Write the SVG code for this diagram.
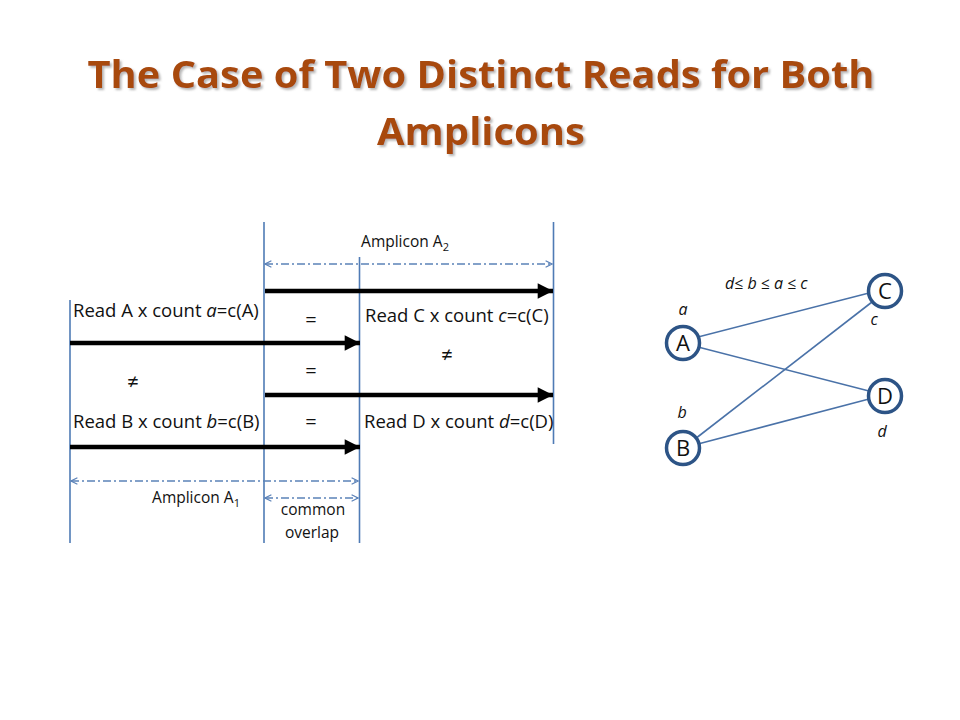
<svg xmlns="http://www.w3.org/2000/svg" width="960" height="720" viewBox="0 0 960 720">
<defs>
<marker id="ah" viewBox="0 0 10 10" refX="10" refY="5" markerWidth="3.8" markerHeight="3.4" orient="auto" markerUnits="strokeWidth">
<path d="M0,0 L10,5 L0,10 z" fill="#000"/>
</marker>
<marker id="chev" viewBox="0 0 10 10" refX="9" refY="5" markerWidth="8" markerHeight="8" orient="auto-start-reverse" markerUnits="userSpaceOnUse">
<path d="M1,1 L9,5 L1,9" fill="none" stroke="#5b82b8" stroke-width="1.5"/>
</marker>
<filter id="sh" x="-5%" y="-20%" width="110%" height="140%">
<feDropShadow dx="2" dy="2" stdDeviation="1" flood-color="#888" flood-opacity="0.6"/>
</filter>
</defs>
<style>
.title{font-family:"Open Sans","Liberation Sans",sans-serif;font-weight:bold;font-size:38px;fill:#a8490e;text-anchor:middle}
.lbl{font-family:"Open Sans","Liberation Sans",sans-serif;font-size:18.5px;fill:#111}
.sm{font-family:"Open Sans","Liberation Sans",sans-serif;font-size:15.5px;fill:#111}
.op{font-family:"Open Sans","Liberation Sans",sans-serif;font-size:20px;fill:#111;text-anchor:middle}
.it{font-style:italic}
.vl{stroke:#4f7bb5;stroke-width:1.6;fill:none}
.rd{stroke:#000;stroke-width:4.5;fill:none;marker-end:url(#ah)}
.dd{stroke:#5b82b8;stroke-width:1.5;stroke-dasharray:8 3 2 3;fill:none;marker-start:url(#chev);marker-end:url(#chev)}
.edge{stroke:#4a72a8;stroke-width:1.6;fill:none}
.node circle{fill:#fff;stroke:#2d5486;stroke-width:3.5}
.node text{font-family:"Open Sans","Liberation Sans",sans-serif;font-size:22px;fill:#111;text-anchor:middle}
.gl{font-family:"Open Sans","Liberation Sans",sans-serif;font-style:italic;font-size:16px;fill:#111}
</style>
<rect width="960" height="720" fill="#fff"/>
<g id="title" filter="url(#sh)">
<text class="title" x="481" y="88" textLength="787" lengthAdjust="spacingAndGlyphs">The Case of Two Distinct Reads for Both</text>
<text class="title" x="481" y="145" textLength="208" lengthAdjust="spacingAndGlyphs">Amplicons</text>
</g>
<g id="guides">
<line class="vl" x1="70" y1="300" x2="70" y2="543"/>
<line class="vl" x1="264" y1="222" x2="264" y2="543"/>
<line class="vl" x1="359.5" y1="257" x2="359.5" y2="543"/>
<line class="vl" x1="553.5" y1="222" x2="553.5" y2="444"/>
</g>
<g id="connectors">
<line class="dd" x1="265" y1="264" x2="552" y2="264"/>
<line class="rd" x1="265" y1="291" x2="553" y2="291"/>
<line class="rd" x1="70" y1="343" x2="360" y2="343"/>
<line class="rd" x1="265" y1="395" x2="553" y2="395"/>
<line class="rd" x1="70" y1="447" x2="360" y2="447"/>
<line class="dd" x1="71" y1="481" x2="358" y2="481"/>
<line class="dd" x1="265" y1="498" x2="358" y2="498"/>
<line class="edge" x1="698" y1="337" x2="869" y2="293"/>
<line class="edge" x1="698" y1="347" x2="869" y2="391"/>
<line class="edge" x1="695" y1="439" x2="872" y2="302"/>
<line class="edge" x1="698" y1="444" x2="869" y2="399"/>
</g>
<g id="labels">
<text class="sm" x="405" y="247" text-anchor="middle">Amplicon A<tspan font-size="11" dy="4">2</tspan></text>
<text class="lbl" x="73" y="317">Read A x count <tspan class="it">a</tspan>=c(A)</text>
<text class="lbl" x="365" y="322">Read C x count <tspan class="it">c</tspan>=c(C)</text>
<text class="lbl" x="73" y="428">Read B x count <tspan class="it">b</tspan>=c(B)</text>
<text class="lbl" x="364" y="428">Read D x count <tspan class="it">d</tspan>=c(D)</text>
<text class="op" x="311" y="327">=</text>
<text class="op" x="311" y="378">=</text>
<text class="op" x="311" y="429">=</text>
<text class="op" x="133" y="389">≠</text>
<text class="op" x="447" y="362">≠</text>
<text class="sm" x="196" y="503" text-anchor="middle">Amplicon A<tspan font-size="11" dy="4">1</tspan></text>
<text class="sm" x="313" y="515" text-anchor="middle">common</text>
<text class="sm" x="312" y="538" text-anchor="middle">overlap</text>
</g>
<g id="nodeA" class="node"><circle cx="683" cy="343" r="16.5"/><text x="683" y="351">A</text></g>
<g id="nodeB" class="node"><circle cx="683" cy="448" r="16.5"/><text x="683" y="456">B</text></g>
<g id="nodeC" class="node"><circle cx="885" cy="291" r="16.5"/><text x="885" y="299">C</text></g>
<g id="nodeD" class="node"><circle cx="885" cy="396" r="16.5"/><text x="885" y="404">D</text></g>
<g id="graph-labels">
<text class="gl" x="725" y="289">d≤ b ≤ a ≤ c</text>
<text class="gl" x="683" y="315" text-anchor="middle">a</text>
<text class="gl" x="874" y="325" text-anchor="middle">c</text>
<text class="gl" x="682" y="418" text-anchor="middle">b</text>
<text class="gl" x="882" y="437" text-anchor="middle">d</text>
</g>
</svg>
